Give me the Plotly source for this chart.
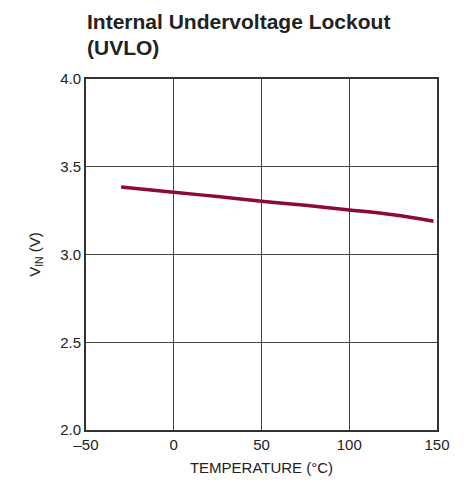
import plotly.graph_objects as go

temps = [-30, 0, 25, 50, 75, 100, 125, 148]
vin = [3.385, 3.355, 3.330, 3.303, 3.280, 3.254, 3.226, 3.190]

x_ticks = [-50, 0, 50, 100, 150]
x_tick_labels = ["–50", "0", "50", "100", "150"]
y_ticks = [2.0, 2.5, 3.0, 3.5, 4.0]
y_tick_labels = ["2.0", "2.5", "3.0", "3.5", "4.0"]

title_lines = ["Internal Undervoltage Lockout", "(UVLO)"]

font_family = "Liberation Sans Narrow, Arial Narrow, Liberation Sans, sans-serif"

fig = go.Figure()
fig.add_trace(go.Scatter(x=temps, y=vin, mode="lines",
                         line=dict(color="#8c0a34", width=3.5, shape="spline"),
                         showlegend=False, hoverinfo="skip"))

fig.add_annotation(text="<b>" + title_lines[0] + "</b>", xref="paper", yref="paper",
                   x=-0.003, y=1 + 44 / 351, xanchor="left", yanchor="bottom",
                   showarrow=False, font=dict(family=font_family, size=21, color="#222"))
fig.add_annotation(text="<b>" + title_lines[1] + "</b>", xref="paper", yref="paper",
                   x=-0.003, y=1 + 18 / 351, xanchor="left", yanchor="bottom",
                   showarrow=False, font=dict(family=font_family, size=21, color="#222"))

fig.update_layout(
    width=466, height=489,
    margin=dict(l=78, r=37, t=71, b=67, autoexpand=False),
    paper_bgcolor="white", plot_bgcolor="white",
    font=dict(family=font_family, size=15, color="#222"),
    xaxis=dict(range=[-50, 150], tickvals=x_ticks, ticktext=x_tick_labels,
               showgrid=True, gridcolor="#444", gridwidth=1,
               showline=True, linecolor="#333", linewidth=2, mirror=True,
               ticks="", zeroline=False, automargin=False,
               title=dict(text="TEMPERATURE (°C)", standoff=10,
                          font=dict(family=font_family, size=15))),
    yaxis=dict(range=[2.0, 4.0], tickvals=y_ticks, ticktext=y_tick_labels,
               showgrid=True, gridcolor="#444", gridwidth=1,
               showline=True, linecolor="#333", linewidth=2, mirror=True,
               ticks="", zeroline=False, automargin=False,
               title=dict(text="V<sub>IN</sub> (V)", standoff=16,
                          font=dict(family=font_family, size=15))),
)

fig.write_html("out.html")
